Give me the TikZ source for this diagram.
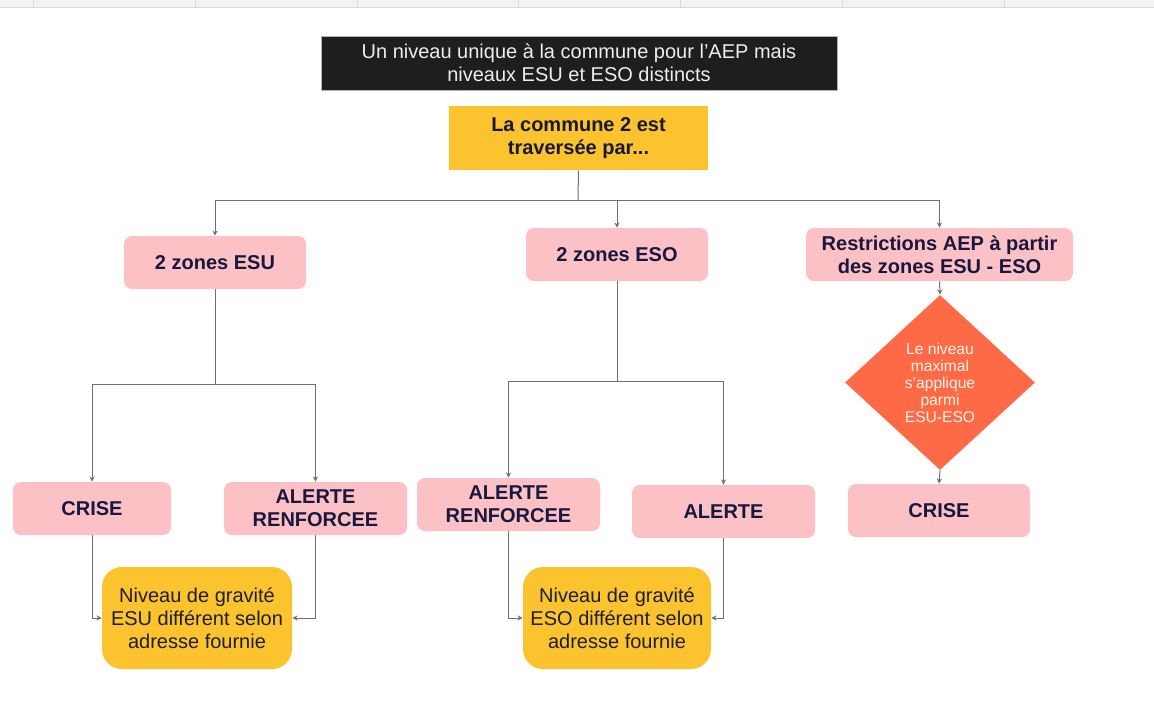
\documentclass[tikz,border=0pt]{standalone}
\usepackage{fontspec}
\setmainfont{Liberation Sans}
\usetikzlibrary{shapes.geometric,arrows.meta}
\definecolor{pinkbox}{RGB}{252,193,196}
\definecolor{yellowbox}{RGB}{251,195,46}
\definecolor{diamcol}{RGB}{254,105,70}
\definecolor{navy}{RGB}{24,24,62}
\definecolor{darktxt}{RGB}{30,30,48}
\definecolor{titlebg}{RGB}{30,30,30}
\definecolor{conncol}{RGB}{112,112,112}
\definecolor{barbg}{RGB}{243,243,243}
\definecolor{barline}{RGB}{218,218,218}
\tikzset{
  pinkstyle/.style={fill=pinkbox, draw=none, rounded corners=4pt, text=navy,
    font=\fontsize{10}{11.5}\selectfont\bfseries, align=center, inner sep=0pt},
  ybottom/.style={fill=yellowbox, draw=none, rounded corners=10pt, text=darktxt,
    font=\fontsize{10}{11.5}\selectfont, align=center, inner sep=0pt,
    minimum width=95pt, minimum height=51pt},
  conn/.style={draw=conncol, line width=0.5pt},
  arr/.style={conn, -{Stealth[length=2.6pt,width=2.6pt]}},
}
\begin{document}
\begin{tikzpicture}[x=0.5pt,y=-0.5pt]
\useasboundingbox (0,0) rectangle (1154,724);
\fill[white] (0,0) rectangle (1154,724);
% top grey bar
\fill[barbg] (0,0) rectangle (1154,7);
\foreach \xx in {33,195,357,518,680,842,1004}
  \draw[barline, line width=0.5pt] (\xx,0) -- (\xx,7);
\draw[barline, line width=0.5pt] (0,7) -- (1154,7);

% title
\node[fill=titlebg, draw=gray!60, line width=0.4pt, text=white!93!black,
  font=\fontsize{10}{11.5}\selectfont, align=center, inner sep=0pt,
  minimum width=258pt, minimum height=27pt] (title) at (579,63)
  {Un niveau unique à la commune pour l’AEP mais\\niveaux ESU et ESO distincts};

% top yellow
\node[fill=yellowbox, text=navy, font=\fontsize{10}{11.5}\selectfont\bfseries,
  align=center, inner sep=0pt, minimum width=129.5pt, minimum height=32pt]
  (top) at (578.5,138) {La commune 2 est\\traversée par...};

% second row
\node[pinkstyle, minimum width=91pt, minimum height=26.5pt] (esu) at (215,262.5) {2 zones ESU};
\node[pinkstyle, minimum width=91pt, minimum height=26.5pt] (eso) at (617,254.5) {2 zones ESO};
\node[pinkstyle, minimum width=133.5pt, minimum height=26.5pt] (restr) at (939.5,254.5)
  {Restrictions AEP à partir\\des zones ESU - ESO};

% diamond
\node[diamond, fill=diamcol, draw=none, inner sep=0pt, text=white!92!orange,
  font=\fontsize{7.8}{8.5}\selectfont, align=center,
  minimum width=95pt, minimum height=87.5pt] (diam) at (940,382.5)
  {Le niveau\\maximal\\s'applique\\parmi\\ESU-ESO};

% third row
\node[pinkstyle, minimum width=79pt, minimum height=26.5pt] (criseL) at (92,508.5) {CRISE};
\node[pinkstyle, minimum width=91.5pt, minimum height=26.5pt] (arL) at (315.5,508.5) {ALERTE\\RENFORCEE};
\node[pinkstyle, minimum width=91.5pt, minimum height=26.5pt] (arM) at (508.5,504.5) {ALERTE\\RENFORCEE};
\node[pinkstyle, minimum width=91.5pt, minimum height=26.5pt] (alerte) at (723.5,511.5) {ALERTE};
\node[pinkstyle, minimum width=91pt, minimum height=26.5pt] (criseR) at (939,510.5) {CRISE};

% bottom yellow
\node[ybottom] (yL) at (197,618) {Niveau de gravité\\ESU différent selon\\adresse fournie};
\node[ybottom, minimum width=94pt] (yM) at (617,618) {Niveau de gravité\\ESO différent selon\\adresse fournie};

% connectors
\coordinate (j1) at (578,200);
\coordinate (j2) at (215,384);
\coordinate (j3) at (617,381);
\draw[conn] (top.south) -- (j1);
\draw[arr] (j1) -| (esu.north);
\draw[arr] (j1) -| (eso.north);
\draw[arr] (j1) -| (restr.north);

\draw[conn] (esu.south) -- (j2);
\draw[arr] (j2) -| (criseL.north);
\draw[arr] (j2) -| (arL.north);

\draw[conn] (eso.south) -- (j3);
\draw[arr] (j3) -| (arM.north);
\draw[arr] (j3) -| (alerte.north);

\draw[arr] (criseL.south) |- (yL.west);
\draw[arr] (arL.south) |- (yL.east);
\draw[arr] (arM.south) |- (yM.west);
\draw[arr] (alerte.south) |- (yM.east);

\draw[arr] (restr.south) -- (diam.north);
\draw[arr] (diam.south) -- (criseR.north);
\end{tikzpicture}
\end{document}
